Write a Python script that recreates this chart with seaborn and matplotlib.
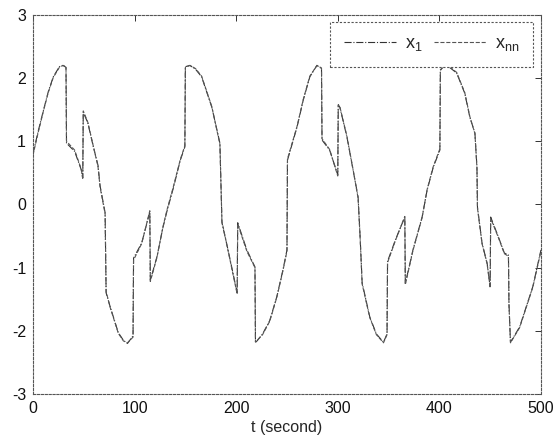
import matplotlib
matplotlib.use("Agg")
import matplotlib.pyplot as plt
import seaborn as sns
import pandas as pd

# values (jumps kept as two points close together)
t = [0, 5, 10, 15, 20, 26, 29.5, 32.5, 33, 41, 47.5, 49, 49.5, 54, 59, 64, 66, 71,
     72, 76, 84, 89, 93, 98.5, 99, 107, 115, 115.5, 122, 128, 132, 138, 145, 149.5,
     150, 154.5, 160, 166, 176, 184, 186, 192, 201, 201.5, 210.5, 218.5, 219, 226,
     233, 240, 246, 250, 250.5, 260, 266, 272.5, 279.5, 284, 284.5, 292, 300, 300.5,
     302, 309, 315, 320, 322, 324, 331.5, 338, 345, 348.5, 349, 357, 366, 366.5, 374,
     383, 388, 394, 400.5, 401, 405, 410, 417, 425, 430, 435, 437, 437.5, 442, 447,
     450, 450.5, 458, 464, 468, 468.5, 470, 479, 492, 500]

x_1 = [0.80, 1.15, 1.47, 1.78, 2.02, 2.18, 2.20, 2.17, 0.97, 0.84, 0.55, 0.42, 1.46,
       1.29, 0.94, 0.62, 0.30, -0.13, -1.40, -1.62, -2.03, -2.15, -2.20, -2.08, -0.85,
       -0.61, -0.12, -1.20, -0.83, -0.36, -0.10, 0.25, 0.70, 0.91, 2.18, 2.20, 2.14,
       2.02, 1.54, 0.97, -0.29, -0.72, -1.40, -0.29, -0.72, -0.99, -2.19, -2.05, -1.84,
       -1.46, -1.04, -0.72, 0.70, 1.23, 1.65, 2.02, 2.20, 2.15, 1.02, 0.86, 0.47, 1.57,
       1.54, 1.07, 0.55, 0.12, -0.51, -1.24, -1.78, -2.05, -2.18, -2.05, -0.90, -0.55,
       -0.20, -1.25, -0.72, -0.20, 0.23, 0.59, 0.86, 2.13, 2.20, 2.17, 2.08, 1.76, 1.38,
       1.13, 0.59, -0.04, -0.61, -0.93, -1.30, -0.20, -0.51, -0.77, -0.80, -1.56, -2.18,
       -1.94, -1.30, -0.72]

x_nn = [0.78, 1.13, 1.46, 1.77, 2.01, 2.17, 2.20, 2.18, 1.00, 0.86, 0.56, 0.40, 1.48,
        1.30, 0.95, 0.60, 0.28, -0.15, -1.38, -1.63, -2.04, -2.16, -2.19, -2.10, -0.88,
        -0.62, -0.10, -1.22, -0.84, -0.35, -0.08, 0.27, 0.71, 0.93, 2.17, 2.20, 2.15,
        2.03, 1.55, 0.95, -0.27, -0.73, -1.42, -0.31, -0.74, -1.00, -2.18, -2.06, -1.85,
        -1.47, -1.05, -0.74, 0.72, 1.24, 1.66, 2.03, 2.20, 2.16, 1.04, 0.87, 0.45, 1.58,
        1.55, 1.08, 0.56, 0.10, -0.53, -1.26, -1.79, -2.06, -2.19, -2.06, -0.92, -0.56,
        -0.19, -1.27, -0.73, -0.21, 0.24, 0.60, 0.88, 2.12, 2.20, 2.18, 2.09, 1.77, 1.39,
        1.12, 0.57, -0.06, -0.62, -0.94, -1.32, -0.22, -0.52, -0.78, -0.82, -1.58, -2.19,
        -1.95, -1.31, -0.74]

xticks = [0, 100, 200, 300, 400, 500]
yticks = [-3, -2, -1, 0, 1, 2, 3]

df = pd.DataFrame({"t": t, "x_1": x_1, "x_nn": x_nn})

sns.set_theme(style="white")
plt.rcParams['font.family'] = ['Liberation Sans', 'DejaVu Sans']
plt.rcParams['mathtext.fontset'] = 'custom'
plt.rcParams['mathtext.rm'] = 'Liberation Sans'
plt.rcParams['mathtext.it'] = 'Liberation Sans'
plt.rcParams['axes.unicode_minus'] = False

fig = plt.figure(figsize=(5.57, 4.45), dpi=100)
ax = fig.add_axes([0.0592, 0.1146, 0.912, 0.852])

sns.lineplot(data=df, x="t", y="x_1", ax=ax, sort=False, estimator=None,
             color="#333333", linewidth=0.8, linestyle="-.", label=r"x$_{1}$")
sns.lineplot(data=df, x="t", y="x_nn", ax=ax, sort=False, estimator=None,
             color="#555555", linewidth=0.8, linestyle="--", label=r"x$_{\mathrm{nn}}$")

ax.set_xlim(0, 500)
ax.set_ylim(-3, 3)
ax.set_xticks(xticks)
ax.set_yticks(yticks)
ax.tick_params(direction='in', top=True, right=True, length=4, width=0.6,
               labelsize=11.5, colors='#111111', pad=5)
ax.set_xlabel("t (second)", fontsize=11.5, labelpad=3)
ax.set_ylabel("")

for s in ax.spines.values():
    s.set_color("#555555")
    s.set_linewidth(0.8)
    s.set_linestyle((0, (2, 1.5)))

leg = ax.legend(loc='upper right', bbox_to_anchor=(0.9845, 0.982), borderaxespad=0,
                ncol=2, handlelength=2.9, columnspacing=0.6, handletextpad=0.5,
                fontsize=13, fancybox=False, framealpha=1, edgecolor="#555555",
                borderpad=0.75)
leg.get_frame().set_linewidth(0.8)
leg.get_frame().set_linestyle((0, (2, 1.5)))

fig.savefig("out.png", dpi=100)
